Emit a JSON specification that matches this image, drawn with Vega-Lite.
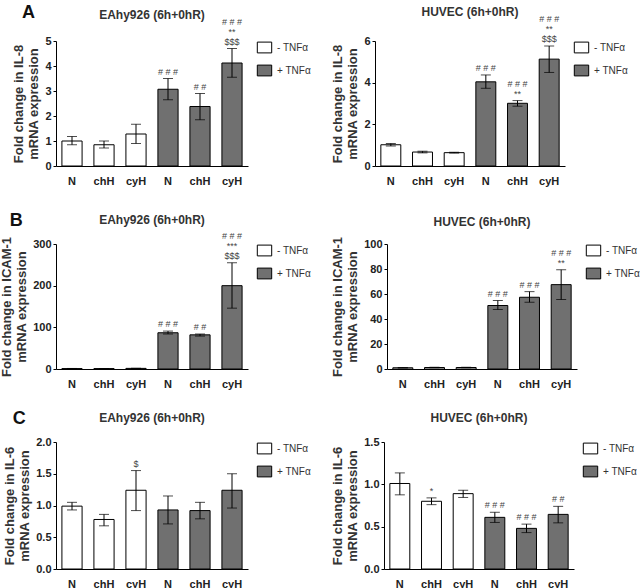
{
  "$schema": "https://vega.github.io/schema/vega-lite/v6.json",
  "padding": {"left": 0, "top": 4, "right": 0, "bottom": 0},
  "background": "white",
  "data": {"values": [
    {"p": "A1", "k": "N-", "t": "- TNFα", "v": 1.0, "lo": 0.85, "hi": 1.18},
    {"p": "A1", "k": "chH-", "t": "- TNFα", "v": 0.85, "lo": 0.72, "hi": 1.0},
    {"p": "A1", "k": "cyH-", "t": "- TNFα", "v": 1.28, "lo": 0.9, "hi": 1.67},
    {"p": "A1", "k": "N+", "t": "+ TNFα", "v": 3.07, "lo": 2.65, "hi": 3.5, "a1": "# # #"},
    {"p": "A1", "k": "chH+", "t": "+ TNFα", "v": 2.38, "lo": 1.85, "hi": 2.9, "a1": "# #"},
    {"p": "A1", "k": "cyH+", "t": "+ TNFα", "v": 4.12, "lo": 3.55, "hi": 4.7, "a1": "$$$", "a2": "**", "a3": "# # #"},
    {"p": "A2", "k": "N-", "t": "- TNFα", "v": 1.02, "lo": 0.96, "hi": 1.08},
    {"p": "A2", "k": "chH-", "t": "- TNFα", "v": 0.67, "lo": 0.63, "hi": 0.71},
    {"p": "A2", "k": "cyH-", "t": "- TNFα", "v": 0.64, "lo": 0.62, "hi": 0.66},
    {"p": "A2", "k": "N+", "t": "+ TNFα", "v": 4.04, "lo": 3.73, "hi": 4.37, "a1": "# # #"},
    {"p": "A2", "k": "chH+", "t": "+ TNFα", "v": 3.01, "lo": 2.87, "hi": 3.14, "a1": "**", "a2": "# # #"},
    {"p": "A2", "k": "cyH+", "t": "+ TNFα", "v": 5.13, "lo": 4.49, "hi": 5.76, "a1": "$$$", "a2": "**", "a3": "# # #"},
    {"p": "B1", "k": "N-", "t": "- TNFα", "v": 1.0, "lo": 0.7, "hi": 1.3},
    {"p": "B1", "k": "chH-", "t": "- TNFα", "v": 1.0, "lo": 0.8, "hi": 1.2},
    {"p": "B1", "k": "cyH-", "t": "- TNFα", "v": 1.5, "lo": 1.2, "hi": 1.8},
    {"p": "B1", "k": "N+", "t": "+ TNFα", "v": 87, "lo": 84, "hi": 91, "a1": "# # #"},
    {"p": "B1", "k": "chH+", "t": "+ TNFα", "v": 82, "lo": 79, "hi": 84, "a1": "# #"},
    {"p": "B1", "k": "cyH+", "t": "+ TNFα", "v": 200, "lo": 146, "hi": 255, "a1": "$$$", "a2": "***", "a3": "# # #"},
    {"p": "B2", "k": "N-", "t": "- TNFα", "v": 1.0, "lo": 0.8, "hi": 1.2},
    {"p": "B2", "k": "chH-", "t": "- TNFα", "v": 1.2, "lo": 1.0, "hi": 1.4},
    {"p": "B2", "k": "cyH-", "t": "- TNFα", "v": 1.2, "lo": 1.0, "hi": 1.4},
    {"p": "B2", "k": "N+", "t": "+ TNFα", "v": 50.8, "lo": 47.6, "hi": 54.8, "a1": "# # #"},
    {"p": "B2", "k": "chH+", "t": "+ TNFα", "v": 57.4, "lo": 53.4, "hi": 61.9, "a1": "# # #"},
    {"p": "B2", "k": "cyH+", "t": "+ TNFα", "v": 67.5, "lo": 55.6, "hi": 79.4, "a1": "**", "a2": "# # #"},
    {"p": "C1", "k": "N-", "t": "- TNFα", "v": 0.99, "lo": 0.93, "hi": 1.05},
    {"p": "C1", "k": "chH-", "t": "- TNFα", "v": 0.78, "lo": 0.68, "hi": 0.86},
    {"p": "C1", "k": "cyH-", "t": "- TNFα", "v": 1.24, "lo": 0.92, "hi": 1.55, "a1": "$"},
    {"p": "C1", "k": "N+", "t": "+ TNFα", "v": 0.93, "lo": 0.71, "hi": 1.15},
    {"p": "C1", "k": "chH+", "t": "+ TNFα", "v": 0.92, "lo": 0.79, "hi": 1.05},
    {"p": "C1", "k": "cyH+", "t": "+ TNFα", "v": 1.24, "lo": 0.96, "hi": 1.5},
    {"p": "C2", "k": "N-", "t": "- TNFα", "v": 1.01, "lo": 0.876, "hi": 1.135},
    {"p": "C2", "k": "chH-", "t": "- TNFα", "v": 0.8, "lo": 0.76, "hi": 0.84, "a1": "*"},
    {"p": "C2", "k": "cyH-", "t": "- TNFα", "v": 0.89, "lo": 0.845, "hi": 0.93},
    {"p": "C2", "k": "N+", "t": "+ TNFα", "v": 0.61, "lo": 0.55, "hi": 0.67, "a1": "# # #"},
    {"p": "C2", "k": "chH+", "t": "+ TNFα", "v": 0.48, "lo": 0.43, "hi": 0.53, "a1": "# # #"},
    {"p": "C2", "k": "cyH+", "t": "+ TNFα", "v": 0.645, "lo": 0.545, "hi": 0.74, "a1": "# #"}
  ]},
  "spacing": 25,
  "resolve": {"scale": {"color": "independent", "y": "independent", "x": "independent"}, "legend": {"color": "independent"}},
  "vconcat": [
    {
      "title": {"text": "A", "anchor": "start", "offset": -16, "fontSize": 18, "color": "#111", "dx": 9, "frame": "bounds"},
      "spacing": 20,
      "resolve": {"scale": {"color": "independent", "y": "independent", "x": "independent"}, "legend": {"color": "independent"}},
      "hconcat": [
        {
          "width": 192, "height": 125,
          "title": {"text": "EAhy926 (6h+0hR)", "frame": "group", "offset": -4},
          "transform": [{"filter": "datum.p === 'A1'"}],
          "encoding": {"x": {"field": "k", "type": "nominal", "sort": ["N-", "chH-", "cyH-", "N+", "chH+", "cyH+"], "scale": {"paddingInner": 0.37, "paddingOuter": 0.185}, "axis": {"title": null, "labelExpr": "slice(datum.label, 0, -1)", "labelAngle": 0}}},
          "layer": [
            {"mark": {"type": "bar", "stroke": "black", "strokeWidth": 1}, "encoding": {"y": {"field": "v", "type": "quantitative", "scale": {"domain": [0, 5]}, "axis": {"values": [0, 1, 2, 3, 4, 5], "title": ["Fold change in IL-8", "mRNA expression"]}}, "color": {"field": "t", "type": "nominal", "scale": {"domain": ["- TNFα", "+ TNFα"], "range": ["white", "#707070"]}, "legend": {"title": null}}}},
            {"mark": {"type": "rule", "color": "black"}, "encoding": {"y": {"field": "lo", "type": "quantitative", "scale": {"domain": [0, 5]}, "axis": {"values": [0, 1, 2, 3, 4, 5], "title": ["Fold change in IL-8", "mRNA expression"]}}, "y2": {"field": "hi"}}},
            {"mark": {"type": "tick", "color": "black", "size": 10, "thickness": 1}, "encoding": {"y": {"field": "lo", "type": "quantitative", "scale": {"domain": [0, 5]}, "axis": {"values": [0, 1, 2, 3, 4, 5], "title": ["Fold change in IL-8", "mRNA expression"]}}}},
            {"mark": {"type": "tick", "color": "black", "size": 10, "thickness": 1}, "encoding": {"y": {"field": "hi", "type": "quantitative", "scale": {"domain": [0, 5]}, "axis": {"values": [0, 1, 2, 3, 4, 5], "title": ["Fold change in IL-8", "mRNA expression"]}}}},
            {"transform": [{"filter": "isValid(datum.a1)"}], "mark": {"type": "text", "baseline": "bottom", "dy": -2, "fontSize": 9, "color": "#444"}, "encoding": {"y": {"field": "hi", "type": "quantitative", "scale": {"domain": [0, 5]}, "axis": {"values": [0, 1, 2, 3, 4, 5], "title": ["Fold change in IL-8", "mRNA expression"]}}, "text": {"field": "a1"}}},
            {"transform": [{"filter": "isValid(datum.a2)"}], "mark": {"type": "text", "baseline": "bottom", "dy": -12, "fontSize": 9, "color": "#444"}, "encoding": {"y": {"field": "hi", "type": "quantitative", "scale": {"domain": [0, 5]}, "axis": {"values": [0, 1, 2, 3, 4, 5], "title": ["Fold change in IL-8", "mRNA expression"]}}, "text": {"field": "a2"}}},
            {"transform": [{"filter": "isValid(datum.a3)"}], "mark": {"type": "text", "baseline": "bottom", "dy": -22, "fontSize": 9, "color": "#444"}, "encoding": {"y": {"field": "hi", "type": "quantitative", "scale": {"domain": [0, 5]}, "axis": {"values": [0, 1, 2, 3, 4, 5], "title": ["Fold change in IL-8", "mRNA expression"]}}, "text": {"field": "a3"}}}
          ]
        },
        {
          "width": 190, "height": 125,
          "title": {"text": "HUVEC (6h+0hR)", "frame": "group", "offset": -4},
          "transform": [{"filter": "datum.p === 'A2'"}],
          "encoding": {"x": {"field": "k", "type": "nominal", "sort": ["N-", "chH-", "cyH-", "N+", "chH+", "cyH+"], "scale": {"paddingInner": 0.37, "paddingOuter": 0.185}, "axis": {"title": null, "labelExpr": "slice(datum.label, 0, -1)", "labelAngle": 0}}},
          "layer": [
            {"mark": {"type": "bar", "stroke": "black", "strokeWidth": 1}, "encoding": {"y": {"field": "v", "type": "quantitative", "scale": {"domain": [0, 6]}, "axis": {"values": [0, 2, 4, 6], "title": ["Fold change in IL-8", "mRNA expression"]}}, "color": {"field": "t", "type": "nominal", "scale": {"domain": ["- TNFα", "+ TNFα"], "range": ["white", "#707070"]}, "legend": {"title": null}}}},
            {"mark": {"type": "rule", "color": "black"}, "encoding": {"y": {"field": "lo", "type": "quantitative", "scale": {"domain": [0, 6]}, "axis": {"values": [0, 2, 4, 6], "title": ["Fold change in IL-8", "mRNA expression"]}}, "y2": {"field": "hi"}}},
            {"mark": {"type": "tick", "color": "black", "size": 10, "thickness": 1}, "encoding": {"y": {"field": "lo", "type": "quantitative", "scale": {"domain": [0, 6]}, "axis": {"values": [0, 2, 4, 6], "title": ["Fold change in IL-8", "mRNA expression"]}}}},
            {"mark": {"type": "tick", "color": "black", "size": 10, "thickness": 1}, "encoding": {"y": {"field": "hi", "type": "quantitative", "scale": {"domain": [0, 6]}, "axis": {"values": [0, 2, 4, 6], "title": ["Fold change in IL-8", "mRNA expression"]}}}},
            {"transform": [{"filter": "isValid(datum.a1)"}], "mark": {"type": "text", "baseline": "bottom", "dy": -2, "fontSize": 9, "color": "#444"}, "encoding": {"y": {"field": "hi", "type": "quantitative", "scale": {"domain": [0, 6]}, "axis": {"values": [0, 2, 4, 6], "title": ["Fold change in IL-8", "mRNA expression"]}}, "text": {"field": "a1"}}},
            {"transform": [{"filter": "isValid(datum.a2)"}], "mark": {"type": "text", "baseline": "bottom", "dy": -12, "fontSize": 9, "color": "#444"}, "encoding": {"y": {"field": "hi", "type": "quantitative", "scale": {"domain": [0, 6]}, "axis": {"values": [0, 2, 4, 6], "title": ["Fold change in IL-8", "mRNA expression"]}}, "text": {"field": "a2"}}},
            {"transform": [{"filter": "isValid(datum.a3)"}], "mark": {"type": "text", "baseline": "bottom", "dy": -22, "fontSize": 9, "color": "#444"}, "encoding": {"y": {"field": "hi", "type": "quantitative", "scale": {"domain": [0, 6]}, "axis": {"values": [0, 2, 4, 6], "title": ["Fold change in IL-8", "mRNA expression"]}}, "text": {"field": "a3"}}}
          ]
        }
      ]
    },
    {
      "spacing": 21,
      "resolve": {"scale": {"color": "independent", "y": "independent", "x": "independent"}, "legend": {"color": "independent"}},
      "vconcat": [
        {
          "title": {"text": "B", "anchor": "start", "offset": -16, "fontSize": 18, "color": "#111", "dx": 9, "frame": "bounds"},
          "spacing": 20,
          "resolve": {"scale": {"color": "independent", "y": "independent", "x": "independent"}, "legend": {"color": "independent"}},
          "hconcat": [
            {
              "width": 192, "height": 125,
              "title": {"text": "EAhy926 (6h+0hR)", "frame": "group", "offset": 5},
              "transform": [{"filter": "datum.p === 'B1'"}],
              "encoding": {"x": {"field": "k", "type": "nominal", "sort": ["N-", "chH-", "cyH-", "N+", "chH+", "cyH+"], "scale": {"paddingInner": 0.37, "paddingOuter": 0.185}, "axis": {"title": null, "labelExpr": "slice(datum.label, 0, -1)", "labelAngle": 0}}},
              "layer": [
                {"mark": {"type": "bar", "stroke": "black", "strokeWidth": 1}, "encoding": {"y": {"field": "v", "type": "quantitative", "scale": {"domain": [0, 300]}, "axis": {"values": [0, 100, 200, 300], "title": ["Fold change in ICAM-1", "mRNA expression"]}}, "color": {"field": "t", "type": "nominal", "scale": {"domain": ["- TNFα", "+ TNFα"], "range": ["white", "#707070"]}, "legend": {"title": null}}}},
                {"mark": {"type": "rule", "color": "black"}, "encoding": {"y": {"field": "lo", "type": "quantitative", "scale": {"domain": [0, 300]}, "axis": {"values": [0, 100, 200, 300], "title": ["Fold change in ICAM-1", "mRNA expression"]}}, "y2": {"field": "hi"}}},
                {"mark": {"type": "tick", "color": "black", "size": 10, "thickness": 1}, "encoding": {"y": {"field": "lo", "type": "quantitative", "scale": {"domain": [0, 300]}, "axis": {"values": [0, 100, 200, 300], "title": ["Fold change in ICAM-1", "mRNA expression"]}}}},
                {"mark": {"type": "tick", "color": "black", "size": 10, "thickness": 1}, "encoding": {"y": {"field": "hi", "type": "quantitative", "scale": {"domain": [0, 300]}, "axis": {"values": [0, 100, 200, 300], "title": ["Fold change in ICAM-1", "mRNA expression"]}}}},
                {"transform": [{"filter": "isValid(datum.a1)"}], "mark": {"type": "text", "baseline": "bottom", "dy": -2, "fontSize": 9, "color": "#444"}, "encoding": {"y": {"field": "hi", "type": "quantitative", "scale": {"domain": [0, 300]}, "axis": {"values": [0, 100, 200, 300], "title": ["Fold change in ICAM-1", "mRNA expression"]}}, "text": {"field": "a1"}}},
                {"transform": [{"filter": "isValid(datum.a2)"}], "mark": {"type": "text", "baseline": "bottom", "dy": -12, "fontSize": 9, "color": "#444"}, "encoding": {"y": {"field": "hi", "type": "quantitative", "scale": {"domain": [0, 300]}, "axis": {"values": [0, 100, 200, 300], "title": ["Fold change in ICAM-1", "mRNA expression"]}}, "text": {"field": "a2"}}},
                {"transform": [{"filter": "isValid(datum.a3)"}], "mark": {"type": "text", "baseline": "bottom", "dy": -22, "fontSize": 9, "color": "#444"}, "encoding": {"y": {"field": "hi", "type": "quantitative", "scale": {"domain": [0, 300]}, "axis": {"values": [0, 100, 200, 300], "title": ["Fold change in ICAM-1", "mRNA expression"]}}, "text": {"field": "a3"}}}
              ]
            },
            {
              "width": 190, "height": 125,
              "title": {"text": "HUVEC (6h+0hR)", "frame": "group", "offset": 7},
              "transform": [{"filter": "datum.p === 'B2'"}],
              "encoding": {"x": {"field": "k", "type": "nominal", "sort": ["N-", "chH-", "cyH-", "N+", "chH+", "cyH+"], "scale": {"paddingInner": 0.37, "paddingOuter": 0.185}, "axis": {"title": null, "labelExpr": "slice(datum.label, 0, -1)", "labelAngle": 0}}},
              "layer": [
                {"mark": {"type": "bar", "stroke": "black", "strokeWidth": 1}, "encoding": {"y": {"field": "v", "type": "quantitative", "scale": {"domain": [0, 100]}, "axis": {"values": [0, 20, 40, 60, 80, 100], "title": ["Fold change in ICAM-1", "mRNA expression"]}}, "color": {"field": "t", "type": "nominal", "scale": {"domain": ["- TNFα", "+ TNFα"], "range": ["white", "#707070"]}, "legend": {"title": null}}}},
                {"mark": {"type": "rule", "color": "black"}, "encoding": {"y": {"field": "lo", "type": "quantitative", "scale": {"domain": [0, 100]}, "axis": {"values": [0, 20, 40, 60, 80, 100], "title": ["Fold change in ICAM-1", "mRNA expression"]}}, "y2": {"field": "hi"}}},
                {"mark": {"type": "tick", "color": "black", "size": 10, "thickness": 1}, "encoding": {"y": {"field": "lo", "type": "quantitative", "scale": {"domain": [0, 100]}, "axis": {"values": [0, 20, 40, 60, 80, 100], "title": ["Fold change in ICAM-1", "mRNA expression"]}}}},
                {"mark": {"type": "tick", "color": "black", "size": 10, "thickness": 1}, "encoding": {"y": {"field": "hi", "type": "quantitative", "scale": {"domain": [0, 100]}, "axis": {"values": [0, 20, 40, 60, 80, 100], "title": ["Fold change in ICAM-1", "mRNA expression"]}}}},
                {"transform": [{"filter": "isValid(datum.a1)"}], "mark": {"type": "text", "baseline": "bottom", "dy": -2, "fontSize": 9, "color": "#444"}, "encoding": {"y": {"field": "hi", "type": "quantitative", "scale": {"domain": [0, 100]}, "axis": {"values": [0, 20, 40, 60, 80, 100], "title": ["Fold change in ICAM-1", "mRNA expression"]}}, "text": {"field": "a1"}}},
                {"transform": [{"filter": "isValid(datum.a2)"}], "mark": {"type": "text", "baseline": "bottom", "dy": -12, "fontSize": 9, "color": "#444"}, "encoding": {"y": {"field": "hi", "type": "quantitative", "scale": {"domain": [0, 100]}, "axis": {"values": [0, 20, 40, 60, 80, 100], "title": ["Fold change in ICAM-1", "mRNA expression"]}}, "text": {"field": "a2"}}}
              ]
            }
          ]
        },
        {
          "title": {"text": "C", "anchor": "start", "offset": -16, "fontSize": 18, "color": "#111", "dx": 9, "frame": "bounds"},
          "spacing": 20,
          "resolve": {"scale": {"color": "independent", "y": "independent", "x": "independent"}, "legend": {"color": "independent"}},
          "hconcat": [
            {
              "width": 192, "height": 127,
              "title": {"text": "EAhy926 (6h+0hR)", "frame": "group", "offset": 11},
              "transform": [{"filter": "datum.p === 'C1'"}],
              "encoding": {"x": {"field": "k", "type": "nominal", "sort": ["N-", "chH-", "cyH-", "N+", "chH+", "cyH+"], "scale": {"paddingInner": 0.37, "paddingOuter": 0.185}, "axis": {"title": null, "labelExpr": "slice(datum.label, 0, -1)", "labelAngle": 0}}},
              "layer": [
                {"mark": {"type": "bar", "stroke": "black", "strokeWidth": 1}, "encoding": {"y": {"field": "v", "type": "quantitative", "scale": {"domain": [0, 2]}, "axis": {"values": [0, 0.5, 1, 1.5, 2], "format": ".1f", "title": ["Fold change in IL-6", "mRNA expression"]}}, "color": {"field": "t", "type": "nominal", "scale": {"domain": ["- TNFα", "+ TNFα"], "range": ["white", "#707070"]}, "legend": {"title": null}}}},
                {"mark": {"type": "rule", "color": "black"}, "encoding": {"y": {"field": "lo", "type": "quantitative", "scale": {"domain": [0, 2]}, "axis": {"values": [0, 0.5, 1, 1.5, 2], "format": ".1f", "title": ["Fold change in IL-6", "mRNA expression"]}}, "y2": {"field": "hi"}}},
                {"mark": {"type": "tick", "color": "black", "size": 10, "thickness": 1}, "encoding": {"y": {"field": "lo", "type": "quantitative", "scale": {"domain": [0, 2]}, "axis": {"values": [0, 0.5, 1, 1.5, 2], "format": ".1f", "title": ["Fold change in IL-6", "mRNA expression"]}}}},
                {"mark": {"type": "tick", "color": "black", "size": 10, "thickness": 1}, "encoding": {"y": {"field": "hi", "type": "quantitative", "scale": {"domain": [0, 2]}, "axis": {"values": [0, 0.5, 1, 1.5, 2], "format": ".1f", "title": ["Fold change in IL-6", "mRNA expression"]}}}},
                {"transform": [{"filter": "isValid(datum.a1)"}], "mark": {"type": "text", "baseline": "bottom", "dy": -2, "fontSize": 9, "color": "#444"}, "encoding": {"y": {"field": "hi", "type": "quantitative", "scale": {"domain": [0, 2]}, "axis": {"values": [0, 0.5, 1, 1.5, 2], "format": ".1f", "title": ["Fold change in IL-6", "mRNA expression"]}}, "text": {"field": "a1"}}}
              ]
            },
            {
              "width": 190, "height": 127,
              "title": {"text": "HUVEC (6h+0hR)", "frame": "group", "offset": 11},
              "transform": [{"filter": "datum.p === 'C2'"}],
              "encoding": {"x": {"field": "k", "type": "nominal", "sort": ["N-", "chH-", "cyH-", "N+", "chH+", "cyH+"], "scale": {"paddingInner": 0.37, "paddingOuter": 0.185}, "axis": {"title": null, "labelExpr": "slice(datum.label, 0, -1)", "labelAngle": 0}}},
              "layer": [
                {"mark": {"type": "bar", "stroke": "black", "strokeWidth": 1}, "encoding": {"y": {"field": "v", "type": "quantitative", "scale": {"domain": [0, 1.5]}, "axis": {"values": [0, 0.5, 1, 1.5], "format": ".1f", "title": ["Fold change in IL-6", "mRNA expression"]}}, "color": {"field": "t", "type": "nominal", "scale": {"domain": ["- TNFα", "+ TNFα"], "range": ["white", "#707070"]}, "legend": {"title": null}}}},
                {"mark": {"type": "rule", "color": "black"}, "encoding": {"y": {"field": "lo", "type": "quantitative", "scale": {"domain": [0, 1.5]}, "axis": {"values": [0, 0.5, 1, 1.5], "format": ".1f", "title": ["Fold change in IL-6", "mRNA expression"]}}, "y2": {"field": "hi"}}},
                {"mark": {"type": "tick", "color": "black", "size": 10, "thickness": 1}, "encoding": {"y": {"field": "lo", "type": "quantitative", "scale": {"domain": [0, 1.5]}, "axis": {"values": [0, 0.5, 1, 1.5], "format": ".1f", "title": ["Fold change in IL-6", "mRNA expression"]}}}},
                {"mark": {"type": "tick", "color": "black", "size": 10, "thickness": 1}, "encoding": {"y": {"field": "hi", "type": "quantitative", "scale": {"domain": [0, 1.5]}, "axis": {"values": [0, 0.5, 1, 1.5], "format": ".1f", "title": ["Fold change in IL-6", "mRNA expression"]}}}},
                {"transform": [{"filter": "isValid(datum.a1)"}], "mark": {"type": "text", "baseline": "bottom", "dy": -2, "fontSize": 9, "color": "#444"}, "encoding": {"y": {"field": "hi", "type": "quantitative", "scale": {"domain": [0, 1.5]}, "axis": {"values": [0, 0.5, 1, 1.5], "format": ".1f", "title": ["Fold change in IL-6", "mRNA expression"]}}, "text": {"field": "a1"}}}
              ]
            }
          ]
        }
      ]
    }
  ],
  "config": {
    "font": "Liberation Sans",
    "view": {"stroke": null},
    "axis": {"domainColor": "black", "tickColor": "black", "labelColor": "#222", "labelFontWeight": "bold", "labelFontSize": 11, "titleFontSize": 13, "titleFontWeight": "bold", "titleColor": "#333", "grid": false, "tickSize": 3, "labelPadding": 2, "titlePadding": 4},
    "axisX": {"ticks": false, "labelPadding": 9},
    "title": {"fontSize": 12, "fontWeight": "bold", "color": "#333"},
    "legend": {"symbolType": "M-1.2,-0.9H1.2V0.9H-1.2Z", "symbolSize": 144, "symbolStrokeColor": "black", "symbolStrokeWidth": 1, "labelFontSize": 10, "labelColor": "#333", "labelOffset": 6, "rowPadding": 8, "offset": 10, "padding": 0}
  }
}
